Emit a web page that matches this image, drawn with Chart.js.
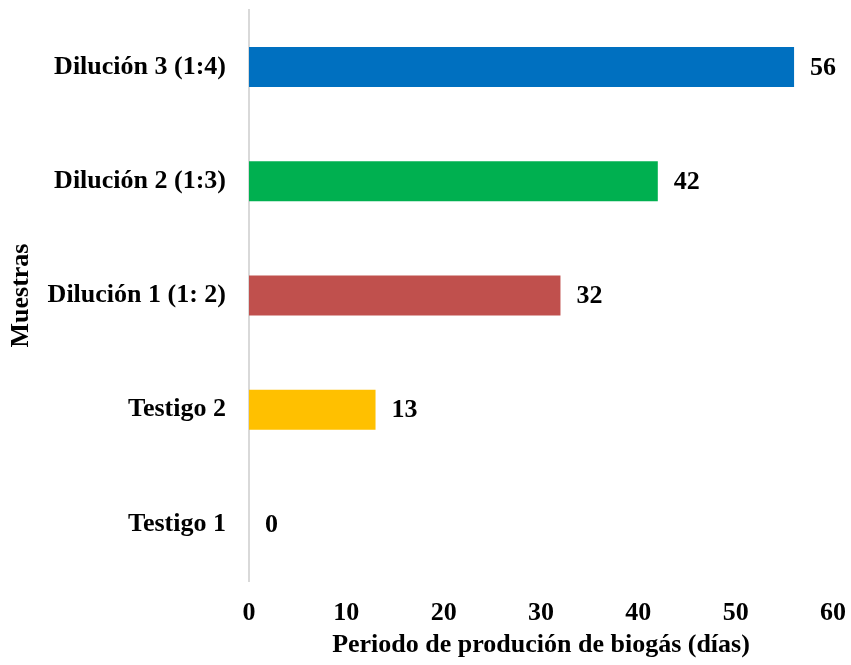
<html>
<head>
<script src="https://cdn.jsdelivr.net/npm/chart.js@4.4.1/dist/chart.umd.min.js"></script>
</head>
<body style="margin:0; background:#fff; overflow:hidden;">
<div style="width:851px; height:665px;">
<canvas id="biogasChart" width="851" height="665"></canvas>
</div>
<script>
const muestras = ["Dilución 3 (1:4)", "Dilución 2 (1:3)", "Dilución 1 (1: 2)", "Testigo 2", "Testigo 1"];
const dias = [56, 42, 32, 13, 0];
const barColors = ["#0070C0", "#00B050", "#C0504D", "#FFC000", "#A5A5A5"];

const FONT = "'Liberation Serif', 'Times New Roman', serif";

// draws the value next to each bar end
const valueLabels = {
  id: "valueLabels",
  afterDatasetsDraw(chart) {
    const ctx = chart.ctx;
    const meta = chart.getDatasetMeta(0);
    ctx.save();
    ctx.font = "bold 26px " + FONT;
    ctx.fillStyle = "#000";
    ctx.textAlign = "left";
    ctx.textBaseline = "middle";
    meta.data.forEach((bar, i) => {
      ctx.fillText(String(dias[i]), bar.x + 16, bar.y + 1);
    });
    ctx.restore();
  }
};

new Chart("biogasChart", {
  type: "bar",
  data: {
    labels: muestras,
    datasets: [{
      data: dias,
      backgroundColor: barColors,
      categoryPercentage: 1,
      barPercentage: 0.35
    }]
  },
  options: {
    indexAxis: "y",
    responsive: false,
    animation: false,
    layout: { padding: { top: 10, right: 18, left: 0, bottom: 0 } },
    plugins: { legend: { display: false }, tooltip: { enabled: false } },
    scales: {
      x: {
        min: 0, max: 60,
        ticks: { stepSize: 10, color: "#000", padding: 17, font: { family: FONT, size: 26, weight: "bold" } },
        grid: { display: false, drawTicks: false },
        border: { display: false },
        title: { display: true, text: "Periodo de produción de biogás (días)", color: "#000", padding: { top: 5 }, font: { family: FONT, size: 26, weight: "bold" } },
        afterFit(scale) { scale.height = 84; scale.paddingLeft = 0; scale.paddingRight = 0; }
      },
      y: {
        ticks: { color: "#000", padding: 23, font: { family: FONT, size: 26, weight: "bold" } },
        grid: { display: false, drawTicks: false },
        border: { display: true, color: "#d9d9d9", width: 2 },
        title: { display: true, text: "Muestras", color: "#000", padding: 6, font: { family: FONT, size: 26, weight: "bold" } },
        afterFit(scale) { scale.width = 249; scale.paddingTop = 0; scale.paddingBottom = 0; }
      }
    }
  },
  plugins: [valueLabels]
});
</script>
</body>
</html>
